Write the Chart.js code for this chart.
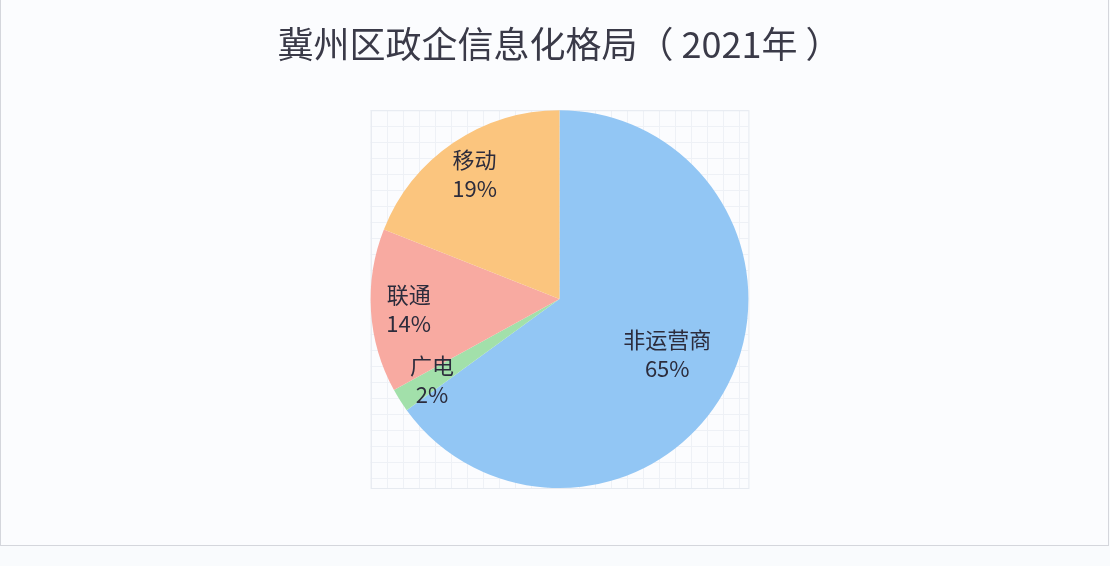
<!DOCTYPE html>
<html>
<head>
<meta charset="utf-8">
<script src="https://cdn.jsdelivr.net/npm/chart.js@4"></script>
<style>
  html, body { margin: 0; padding: 0; background: #f9fbfd; }
  #box {
    position: absolute; left: 0; top: 0; width: 1107px; height: 545px;
    border: 1px solid #d4d6dc; border-top: none; background: #fbfcfe;
  }
  #wrap { position: absolute; left: 0; top: 0; width: 1110px; height: 566px; }
</style>
</head>
<body>
<div id="box"></div>
<div id="wrap"><canvas id="chart" width="1110" height="566"></canvas></div>
<script>
// 数据
const labels = ["非运营商", "广电", "联通", "移动"];
const shares = [65, 2, 14, 19];
const colors = ["#92c6f4", "#a2e0aa", "#f8aaa1", "#fbc57e"];

// 饼图后面的浅色网格
const gridPlugin = {
  id: "grid",
  beforeDatasetsDraw(chart) {
    const arc = chart.getDatasetMeta(0).data[0];
    if (!arc) return;
    const r = arc.outerRadius, cx = arc.x, cy = arc.y;
    const ctx = chart.ctx;
    ctx.save();
    ctx.strokeStyle = "#eef1f6";
    ctx.lineWidth = 1;
    for (let x = cx - r; x <= cx + r + 0.5; x += 16) {
      ctx.beginPath(); ctx.moveTo(Math.round(x) + 0.5, cy - r); ctx.lineTo(Math.round(x) + 0.5, cy + r); ctx.stroke();
    }
    for (let y = cy - r; y <= cy + r + 0.5; y += 16) {
      ctx.beginPath(); ctx.moveTo(cx - r, Math.round(y) + 0.5); ctx.lineTo(cx + r, Math.round(y) + 0.5); ctx.stroke();
    }
    ctx.strokeStyle = "#e6eaf0";
    ctx.strokeRect(cx - r + 0.5, cy - r + 0.5, 2 * r, 2 * r);
    ctx.restore();
  }
};

// 扇区内的标签：名称 + 百分比
const labelPlugin = {
  id: "sliceLabels",
  afterDatasetsDraw(chart) {
    const ctx = chart.ctx;
    const total = shares.reduce((a, b) => a + b, 0);
    ctx.save();
    ctx.font = "22px 'Noto Sans CJK SC', sans-serif";
    ctx.fillStyle = "#2c2c3c";
    ctx.textAlign = "center";
    ctx.textBaseline = "middle";
    chart.getDatasetMeta(0).data.forEach((arc, i) => {
      const mid = (arc.startAngle + arc.endAngle) / 2;
      const f = shares[i] / total > 0.5 ? 0.64 : 0.8;
      const x = arc.x + Math.cos(mid) * arc.outerRadius * f;
      const y = arc.y + Math.sin(mid) * arc.outerRadius * f;
      ctx.fillText(labels[i], x, y - 14);
      ctx.fillText(shares[i] + "%", x, y + 15);
    });
    ctx.restore();
  }
};

new Chart(document.getElementById("chart"), {
  type: "pie",
  data: {
    labels: labels,
    datasets: [{
      data: shares,
      backgroundColor: colors,
      borderWidth: 0
    }]
  },
  options: {
    responsive: false,
    animation: false,
    layout: { padding: { left: 9, right: 0, top: 0, bottom: 78 } },
    plugins: {
      legend: { display: false },
      tooltip: { enabled: false },
      title: {
        display: true,
        text: "冀州区政企信息化格局（ 2021年 ）",
        color: "#3a3a48",
        font: { family: "'Noto Sans CJK SC', sans-serif", size: 36, weight: "normal" },
        padding: { top: 23, bottom: 44 }
      }
    }
  },
  plugins: [gridPlugin, labelPlugin]
});
</script>
</body>
</html>
